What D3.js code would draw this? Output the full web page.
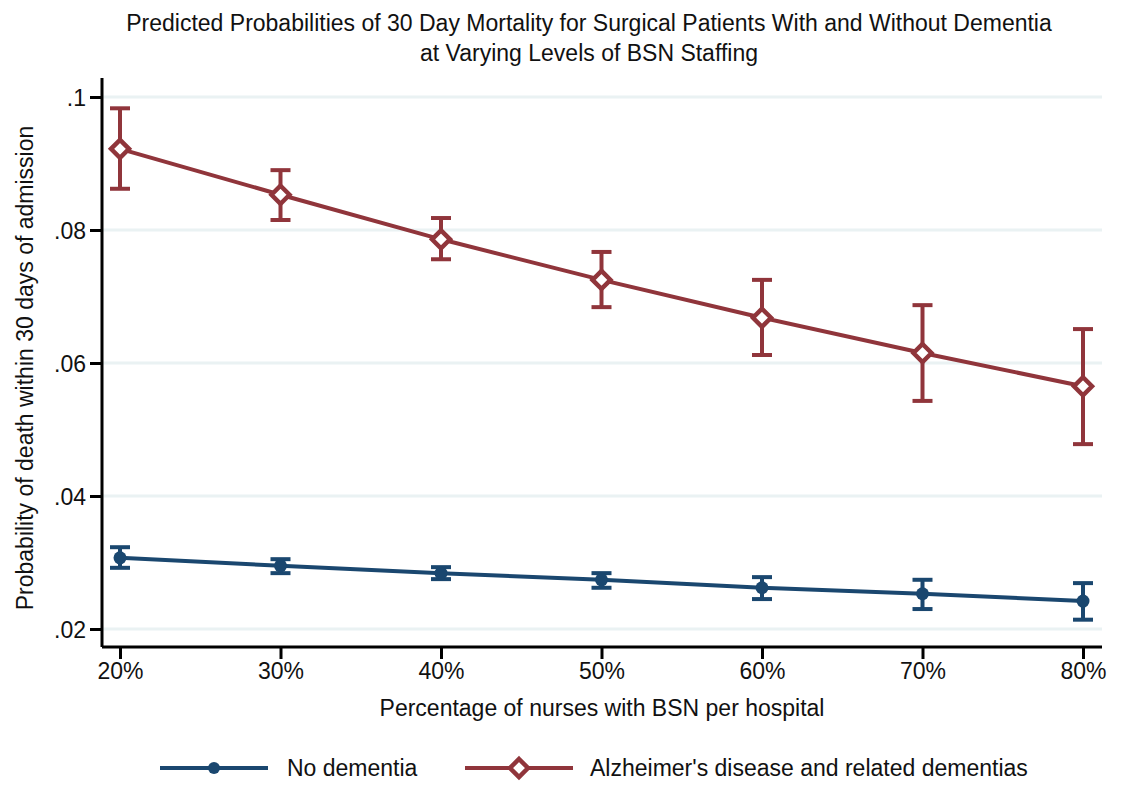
<!DOCTYPE html>
<html>
<head>
<meta charset="utf-8">
<script src="https://cdn.jsdelivr.net/npm/d3@7"></script>
<style>
  body { margin: 0; background: #fff; }
  text { font-family: "Liberation Sans", Arial, sans-serif; fill: #111; }
</style>
</head>
<body>
<svg class="chart" width="1128" height="798"></svg>
<script>
// data
var bsnLevels = [20, 30, 40, 50, 60, 70, 80];
var noDementia = [0.0307, 0.0295, 0.0284, 0.0274, 0.0262, 0.0253, 0.0242];
var noDementiaLo = [0.0292, 0.0284, 0.0275, 0.0262, 0.0245, 0.0230, 0.0214];
var noDementiaHi = [0.0323, 0.0305, 0.0293, 0.0284, 0.0278, 0.0274, 0.0269];
var adrd = [0.0922, 0.0853, 0.0786, 0.0725, 0.0668, 0.0615, 0.0565];
var adrdLo = [0.0862, 0.0815, 0.0756, 0.0684, 0.0612, 0.0543, 0.0478];
var adrdHi = [0.0983, 0.0890, 0.0818, 0.0767, 0.0725, 0.0687, 0.0651];
var yTicks = [0.02, 0.04, 0.06, 0.08, 0.1];
var yTickLabels = [".02", ".04", ".06", ".08", ".1"];
var seriesNames = ["No dementia", "Alzheimer's disease and related dementias"];
var seriesColors = ["#1a476f", "#90353b"];

var svg = d3.select(".chart");
var margin = {top: 78, right: 26, bottom: 151, left: 102};
var w = +svg.attr("width") - margin.left - margin.right;
var h = +svg.attr("height") - margin.top - margin.bottom;
var fs = "23px";

var g = svg.append("g").attr("transform", "translate(" + margin.left + "," + margin.top + ")");

var xScale = d3.scaleLinear().domain([20, 80]).range([18, 981]);
var yScale = d3.scaleLinear().domain([0.02, 0.1]).range([551, 19]);

// grid
g.selectAll(".grid").data(yTicks).enter().append("line")
    .attr("x1", 0).attr("x2", w)
    .attr("y1", function (d) { return yScale(d); })
    .attr("y2", function (d) { return yScale(d); })
    .attr("stroke", "#eaf2f3").attr("stroke-width", 3);

// axes
var yAxis = d3.axisLeft(yScale).tickValues(yTicks)
    .tickFormat(function (d, i) { return yTickLabels[i]; })
    .tickSize(12).tickPadding(4);
var xAxis = d3.axisBottom(xScale).tickValues(bsnLevels)
    .tickFormat(function (d) { return d + "%"; })
    .tickSize(12).tickPadding(4);

var ya = g.append("g").call(yAxis);
var xa = g.append("g").attr("transform", "translate(0," + h + ")").call(xAxis);
[ya, xa].forEach(function (a) {
    a.select(".domain").attr("stroke", "#000").attr("stroke-width", 3)
        .attr("d", a === ya ? "M0,0V" + h : "M0,0H" + w);
    a.selectAll(".tick line").attr("stroke", "#000").attr("stroke-width", 3);
    a.selectAll(".tick text").style("font-size", fs).attr("fill", "#111");
});
ya.selectAll(".tick text").attr("dy", "0.35em");

// series
var series = [
    {vals: noDementia, lo: noDementiaLo, hi: noDementiaHi, color: seriesColors[0], shape: "circle"},
    {vals: adrd, lo: adrdLo, hi: adrdHi, color: seriesColors[1], shape: "diamond"}
];

var line = d3.line()
    .x(function (d, i) { return xScale(bsnLevels[i]); })
    .y(function (d) { return yScale(d); });

series.forEach(function (s) {
    var sg = g.append("g");
    sg.append("path").datum(s.vals).attr("d", line)
        .attr("fill", "none").attr("stroke", s.color).attr("stroke-width", 4);

    var eb = sg.selectAll(".eb").data(bsnLevels).enter().append("g");
    eb.append("line")
        .attr("x1", function (d) { return xScale(d); }).attr("x2", function (d) { return xScale(d); })
        .attr("y1", function (d, i) { return yScale(s.lo[i]); })
        .attr("y2", function (d, i) { return yScale(s.hi[i]); })
        .attr("stroke", s.color).attr("stroke-width", 4);
    [s.lo, s.hi].forEach(function (arr) {
        eb.append("line")
            .attr("x1", function (d) { return xScale(d) - 10; }).attr("x2", function (d) { return xScale(d) + 10; })
            .attr("y1", function (d, i) { return yScale(arr[i]); })
            .attr("y2", function (d, i) { return yScale(arr[i]); })
            .attr("stroke", s.color).attr("stroke-width", 4);
    });

    if (s.shape === "circle") {
        sg.selectAll(".pt").data(s.vals).enter().append("circle")
            .attr("cx", function (d, i) { return xScale(bsnLevels[i]); })
            .attr("cy", function (d) { return yScale(d); })
            .attr("r", 6.5).attr("fill", s.color);
    } else {
        sg.selectAll(".pt").data(s.vals).enter().append("path")
            .attr("d", "M0,-9L9,0L0,9L-9,0Z")
            .attr("transform", function (d, i) { return "translate(" + xScale(bsnLevels[i]) + "," + yScale(d) + ")"; })
            .attr("fill", "#fff").attr("stroke", s.color).attr("stroke-width", 4.5);
    }
});

// titles
svg.append("text").attr("x", 589).attr("y", 31).attr("text-anchor", "middle")
    .style("font-size", fs).text("Predicted Probabilities of 30 Day Mortality for Surgical Patients With and Without Dementia");
svg.append("text").attr("x", 589).attr("y", 61).attr("text-anchor", "middle")
    .style("font-size", fs).text("at Varying Levels of BSN Staffing");
svg.append("text").attr("x", 602).attr("y", 716).attr("text-anchor", "middle")
    .style("font-size", fs).text("Percentage of nurses with BSN per hospital");
svg.append("text").attr("transform", "translate(33,368) rotate(-90)").attr("text-anchor", "middle")
    .style("font-size", fs).text("Probability of death within 30 days of admission");

// legend
var legendX = [160, 465];
var legendTextX = [287, 590];
series.forEach(function (s, i) {
    var lg = svg.append("g").attr("transform", "translate(" + legendX[i] + ",768)");
    lg.append("line").attr("x1", 0).attr("x2", 108).attr("y1", 0).attr("y2", 0)
        .attr("stroke", s.color).attr("stroke-width", 4);
    if (s.shape === "circle") {
        lg.append("circle").attr("cx", 54).attr("cy", 0).attr("r", 6).attr("fill", s.color);
    } else {
        lg.append("path").attr("d", "M54,-9L63,0L54,9L45,0Z")
            .attr("fill", "#fff").attr("stroke", s.color).attr("stroke-width", 4.5);
    }
    svg.append("text").attr("x", legendTextX[i]).attr("y", 776)
        .style("font-size", fs).text(seriesNames[i]);
});
</script>
</body>
</html>
